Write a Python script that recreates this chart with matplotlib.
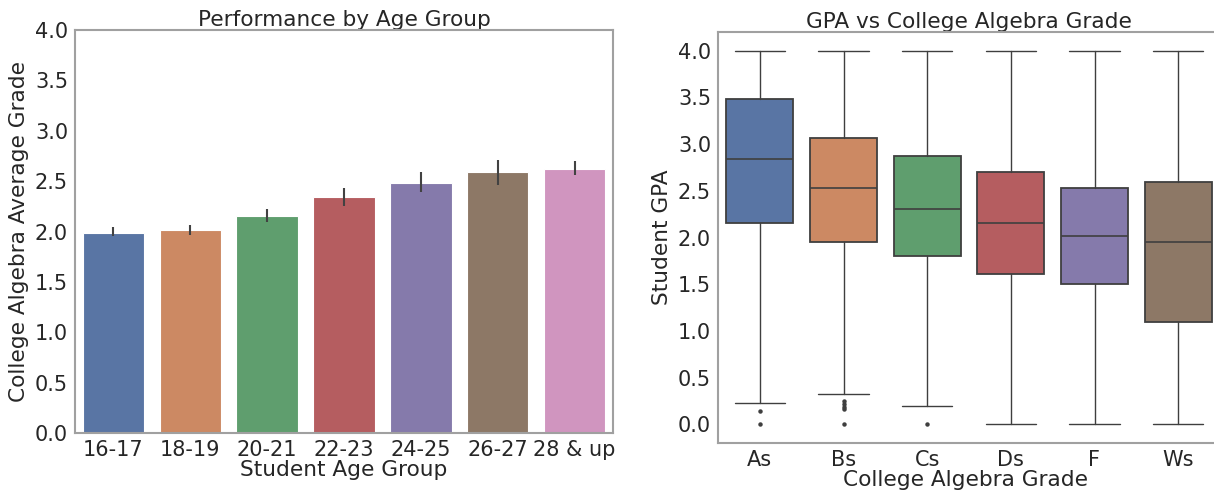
import matplotlib
matplotlib.use("Agg")
import matplotlib.pyplot as plt
import seaborn as sns
import numpy as np

# ---------------- data ----------------
age_groups = ["16-17", "18-19", "20-21", "22-23", "24-25", "26-27", "28 & up"]
age_means = [1.99, 2.01, 2.15, 2.34, 2.48, 2.59, 2.62]
age_err_low = [1.96, 1.97, 2.09, 2.25, 2.39, 2.46, 2.56]
age_err_high = [2.04, 2.06, 2.22, 2.43, 2.59, 2.71, 2.70]

grades = ["As", "Bs", "Cs", "Ds", "F", "Ws"]
gpa_q1 = [2.15, 1.95, 1.80, 1.61, 1.50, 1.10]
gpa_median = [2.84, 2.53, 2.31, 2.15, 2.02, 1.95]
gpa_q3 = [3.48, 3.07, 2.87, 2.70, 2.53, 2.59]
gpa_whislo = [0.23, 0.32, 0.20, 0.0, 0.0, 0.0]
gpa_whishi = [4.0, 4.0, 4.0, 4.0, 4.0, 4.0]
gpa_fliers = [[0.14, 0.0], [0.25, 0.22, 0.19, 0.16, 0.0], [0.0], [], [], []]

# ---------------- style ----------------
sns.set_style("white")
plt.rcParams['font.family'] = ['DejaVu Sans']
text_color = "#262626"
spine_color = "#a0a0a0"
base = sns.color_palette("deep")
colors = [sns.desaturate(c, 0.75) for c in base]

W, H = 1214, 493
fig = plt.figure(figsize=(W / 100, H / 100), dpi=100)

def frac(l, t, r, b):
    return [l / W, (H - b) / H, (r - l) / W, (b - t) / H]

# ---------------- left: bar chart ----------------
ax1 = fig.add_axes(frac(75, 30, 613, 433))
x = np.arange(len(age_groups))
ax1.bar(x, age_means, width=0.8, color=colors[:len(age_groups)],
        edgecolor="white", linewidth=0.8)
for xi, lo, hi in zip(x, age_err_low, age_err_high):
    ax1.plot([xi, xi], [lo, hi], color="#424242", lw=1.5, solid_capstyle="butt")
ax1.set_xlim(-0.5, len(age_groups) - 0.5)
ax1.set_ylim(0, 4.0)
ax1.set_yticks(np.arange(0, 4.01, 0.5))
ax1.set_yticklabels([f"{v:.1f}" for v in np.arange(0, 4.01, 0.5)])
ax1.set_xticks(x)
ax1.set_xticklabels(age_groups)
ax1.set_title("Performance by Age Group", fontsize=15.6, color=text_color, pad=3)
ax1.set_xlabel("Student Age Group", fontsize=15.6, color=text_color, labelpad=0)
ax1.set_ylabel("College Algebra Average Grade", fontsize=15.6, color=text_color, labelpad=4)

# ---------------- right: box plot ----------------
# The reference's right panel is cut off at the image's right edge.
unit = (1220 - 718) / len(grades)
right_px = W - 0.5
ax2 = fig.add_axes(frac(718, 32, right_px, 443))
stats = []
for i, g in enumerate(grades):
    stats.append(dict(label=g, q1=gpa_q1[i], med=gpa_median[i], q3=gpa_q3[i],
                      whislo=gpa_whislo[i], whishi=gpa_whishi[i],
                      fliers=np.array(gpa_fliers[i])))
line_c = "#3f3f3f"
bp = ax2.bxp(stats, positions=np.arange(len(grades)), widths=0.8,
             patch_artist=True, showfliers=True,
             boxprops=dict(edgecolor=line_c, linewidth=1.3),
             medianprops=dict(color=line_c, linewidth=1.2),
             whiskerprops=dict(color=line_c, linewidth=1.0),
             capprops=dict(color=line_c, linewidth=1.0),
             flierprops=dict(marker="o", markersize=2.2, markerfacecolor=line_c,
                             markeredgecolor=line_c, linestyle="none"))
for patch, c in zip(bp["boxes"], colors):
    patch.set_facecolor(c)
for cap in bp["caps"]:
    xd = cap.get_xdata()
    m = (xd[0] + xd[1]) / 2
    cap.set_xdata([m - 0.3, m + 0.3])
ax2.set_xlim(-0.5, -0.5 + (right_px - 718) / unit)
ax2.set_ylim(-0.2, 4.2)
ax2.set_yticks(np.arange(0, 4.01, 0.5))
ax2.set_yticklabels([f"{v:.1f}" for v in np.arange(0, 4.01, 0.5)])
ax2.set_xticks(np.arange(len(grades)))
ax2.set_xticklabels(grades)
ax2.set_xlabel("College Algebra Grade", fontsize=15.6, color=text_color, labelpad=0)
ax2.set_ylabel("Student GPA", fontsize=15.6, color=text_color, labelpad=4)
# title centred over the full (uncut) panel
ax2.text((718 + 1220) / 2 / W, (H - 32 + 3 * 100 / 72) / H, "GPA vs College Algebra Grade",
         transform=fig.transFigure, ha="center", va="baseline",
         fontsize=15.6, color=text_color)

for ax in (ax1, ax2):
    for s in ax.spines.values():
        s.set_color(spine_color)
        s.set_linewidth(1.5)
        s.set_visible(True)
        s.set_zorder(5)
    ax.tick_params(axis="both", labelsize=15, colors=text_color, length=0, pad=5)
ax2.spines["right"].set_visible(False)

fig.savefig("out.png", dpi=100)
